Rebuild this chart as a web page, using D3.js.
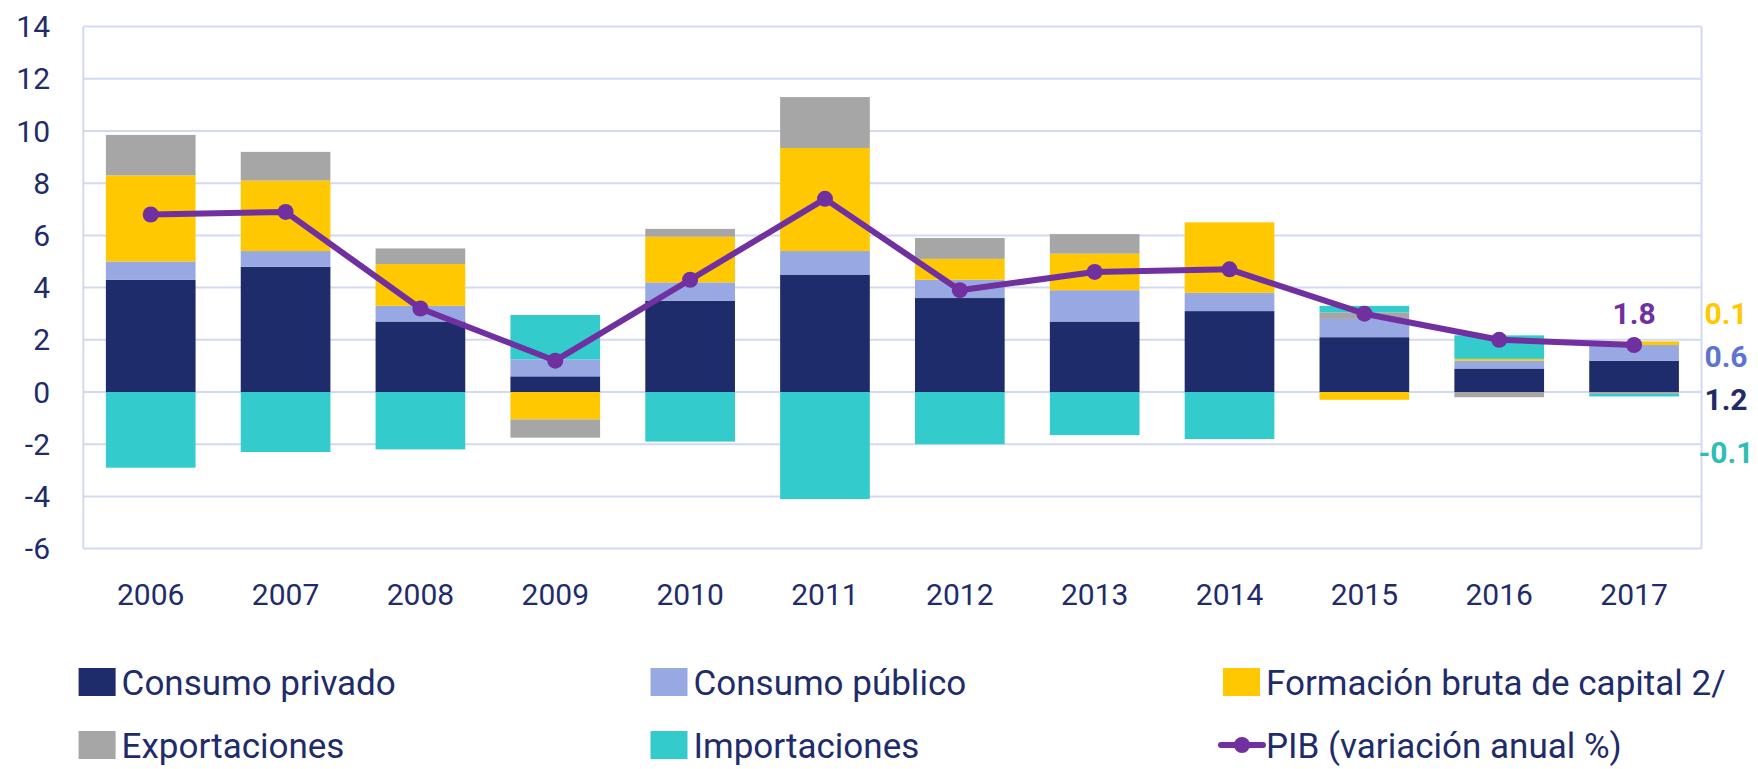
<!DOCTYPE html>
<html>
<head>
<meta charset="utf-8">
<script src="https://cdn.jsdelivr.net/npm/d3@7"></script>
<style>
  body { margin: 0; background: #fff; }
  svg { display: block; font-family: Roboto, "Noto Sans", sans-serif; }
</style>
</head>
<body>
<div id="chart"></div>
<script>
// contribuciones al crecimiento del PIB (puntos porcentuales)
const years = ["2006", "2007", "2008", "2009", "2010", "2011", "2012", "2013", "2014", "2015", "2016", "2017"];
const consumoPrivado = [4.3, 4.8, 2.7, 0.6, 3.5, 4.5, 3.6, 2.7, 3.1, 2.1, 0.9, 1.2];
const consumoPublico = [0.7, 0.6, 0.6, 0.65, 0.7, 0.9, 0.7, 1.2, 0.7, 0.7, 0.3, 0.6];
const formacionBruta = [3.3, 2.7, 1.6, -1.05, 1.75, 3.95, 0.8, 1.4, 2.7, -0.3, 0.07, 0.14];
const exportaciones = [1.55, 1.1, 0.6, -0.7, 0.3, 1.95, 0.8, 0.75, 0, 0.25, -0.2, -0.07];
const importaciones = [-2.9, -2.3, -2.2, 1.7, -1.9, -4.1, -2.0, -1.65, -1.8, 0.25, 0.9, -0.1];
const pib = [6.8, 6.9, 3.2, 1.2, 4.3, 7.4, 3.9, 4.6, 4.7, 3.0, 2.0, 1.8];
const yTicks = [-6, -4, -2, 0, 2, 4, 6, 8, 10, 12, 14];

// etiquetas del ultimo anio (texto y altura en unidades del eje)
const lastLabels = ["0.1", "0.6", "1.2", "-0.1"];
const lastLabelAt = [3.0, 1.35, -0.3, -2.3];
const pibLabel = "1.8";

const seriesNames = ["Consumo privado", "Consumo público", "Formación bruta de capital 2/", "Exportaciones", "Importaciones"];
const seriesKeys = ["cp", "cg", "fbk", "x", "m"];
const colors = { cp: "#1f2c6b", cg: "#97a8e3", fbk: "#ffc800", x: "#a6a6a6", m: "#33cbcb" };
const labelColors = ["#ffc800", "#5c74d2", "#1f2c6b", "#2fbdb8"];
const pibColor = "#7030a0";
const textColor = "#1f2c6b";
const gridColor = "#d3d9f3";

const W = 1758, H = 769;
const plot = { left: 83.3, right: 1701.5, top: 26.6, bottom: 548.6 };

// build table for d3.stack
const table = years.map((y, i) => ({
    year: y,
    cp: consumoPrivado[i],
    cg: consumoPublico[i],
    fbk: formacionBruta[i],
    x: exportaciones[i],
    m: importaciones[i]
}));

const svg = d3.select("#chart").append("svg")
    .attr("width", W)
    .attr("height", H);

const x = d3.scaleBand()
    .domain(years)
    .range([plot.left, plot.right])
    .paddingInner(0.335)
    .paddingOuter(0.1675);

const y = d3.scaleLinear()
    .domain([-6, 14])
    .range([plot.bottom, plot.top]);

// grid
svg.append("g")
    .selectAll("line")
    .data(yTicks)
    .join("line")
    .attr("x1", plot.left)
    .attr("x2", plot.right)
    .attr("y1", d => y(d))
    .attr("y2", d => y(d))
    .attr("stroke", gridColor)
    .attr("stroke-width", 2);

svg.append("g")
    .selectAll("line")
    .data([plot.left, plot.right])
    .join("line")
    .attr("x1", d => d)
    .attr("x2", d => d)
    .attr("y1", plot.top)
    .attr("y2", plot.bottom)
    .attr("stroke", gridColor)
    .attr("stroke-width", 2);

// y tick labels
svg.append("g")
    .selectAll("text")
    .data(yTicks)
    .join("text")
    .attr("x", 50)
    .attr("y", d => y(d) + 10.5)
    .attr("text-anchor", "end")
    .attr("font-size", 30)
    .attr("fill", textColor)
    .text(d => d);

// year labels
svg.append("g")
    .selectAll("text")
    .data(years)
    .join("text")
    .attr("x", d => x(d) + x.bandwidth() / 2)
    .attr("y", 605)
    .attr("text-anchor", "middle")
    .attr("font-size", 30)
    .attr("fill", textColor)
    .text(d => d);

// stacked bars
const stack = d3.stack()
    .keys(seriesKeys)
    .offset(d3.stackOffsetDiverging);

const layers = stack(table);

svg.append("g")
    .selectAll("g")
    .data(layers)
    .join("g")
    .attr("fill", d => colors[d.key])
    .selectAll("rect")
    .data(d => d)
    .join("rect")
    .attr("x", d => x(d.data.year))
    .attr("width", x.bandwidth())
    .attr("y", d => y(Math.max(d[0], d[1])))
    .attr("height", d => Math.abs(y(d[0]) - y(d[1])));

// PIB line
const line = d3.line()
    .x((d, i) => x(years[i]) + x.bandwidth() / 2)
    .y(d => y(d));

svg.append("path")
    .datum(pib)
    .attr("d", line)
    .attr("fill", "none")
    .attr("stroke", pibColor)
    .attr("stroke-width", 6)
    .attr("stroke-linejoin", "round");

svg.append("g")
    .selectAll("circle")
    .data(pib)
    .join("circle")
    .attr("cx", (d, i) => x(years[i]) + x.bandwidth() / 2)
    .attr("cy", d => y(d))
    .attr("r", 8)
    .attr("fill", pibColor);

// label on the last PIB point
const last = years.length - 1;
svg.append("text")
    .attr("x", x(years[last]) + x.bandwidth() / 2)
    .attr("y", y(pib[last]) - 21)
    .attr("text-anchor", "middle")
    .attr("font-size", 30)
    .attr("font-weight", "bold")
    .attr("fill", pibColor)
    .text(pibLabel);

// component labels at the right
svg.append("g")
    .selectAll("text")
    .data(lastLabels)
    .join("text")
    .attr("x", 1726)
    .attr("y", (d, i) => y(lastLabelAt[i]) + 10.5)
    .attr("text-anchor", "middle")
    .attr("font-size", 30)
    .attr("font-weight", "bold")
    .attr("fill", (d, i) => labelColors[i])
    .text(d => d);

// legend
const legendCols = [78.6, 650.5, 1223];
const legendRows = [682, 745];
const legendItems = [
    { name: seriesNames[0], key: "cp" },
    { name: seriesNames[1], key: "cg" },
    { name: seriesNames[2], key: "fbk" },
    { name: seriesNames[3], key: "x" },
    { name: seriesNames[4], key: "m" },
    { name: "PIB (variación anual %)", key: "pib" }
];

const legend = svg.append("g")
    .selectAll("g")
    .data(legendItems)
    .join("g")
    .attr("transform", (d, i) => "translate(" + legendCols[i % 3] + "," + legendRows[Math.floor(i / 3)] + ")");

legend.filter(d => d.key !== "pib")
    .append("rect")
    .attr("x", 0)
    .attr("y", -14)
    .attr("width", 37)
    .attr("height", 28)
    .attr("fill", d => colors[d.key]);

const pibLegend = legend.filter(d => d.key === "pib");
pibLegend.append("line")
    .attr("x1", -2)
    .attr("x2", 40)
    .attr("y1", 0)
    .attr("y2", 0)
    .attr("stroke", pibColor)
    .attr("stroke-width", 6)
    .attr("stroke-linecap", "round");
pibLegend.append("circle")
    .attr("cx", 19)
    .attr("cy", 0)
    .attr("r", 8)
    .attr("fill", pibColor);

legend.append("text")
    .attr("x", 43)
    .attr("y", 13)
    .attr("font-size", 35)
    .attr("fill", textColor)
    .text(d => d.name);
</script>
</body>
</html>
